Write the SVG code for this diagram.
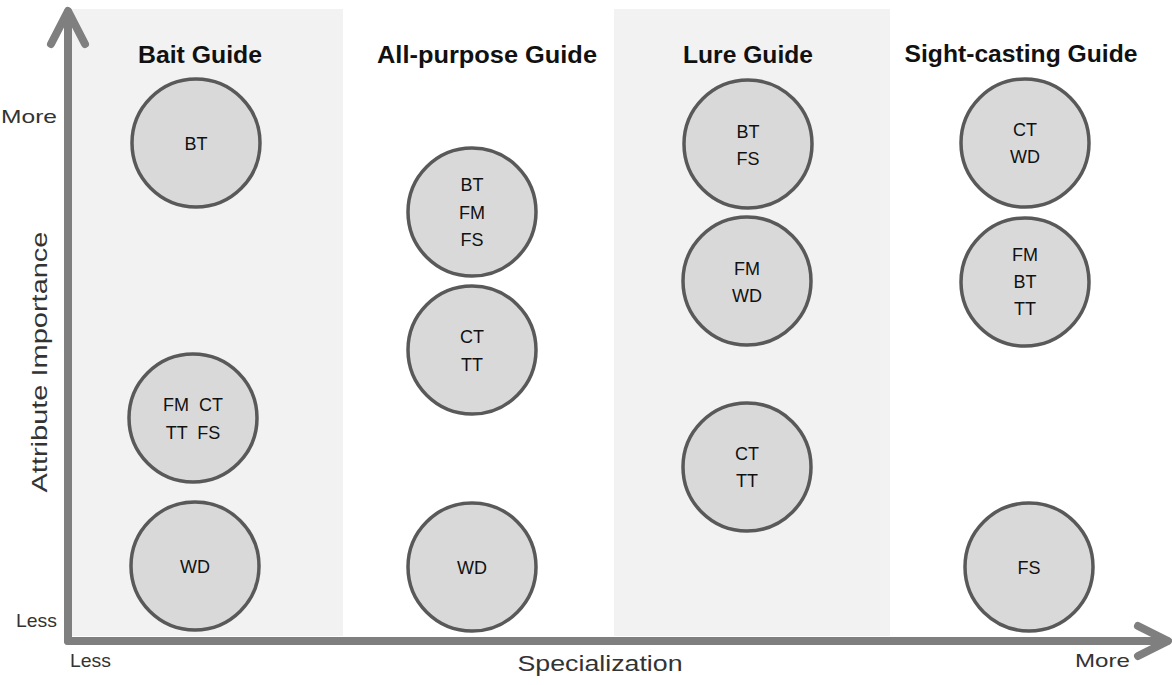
<svg xmlns="http://www.w3.org/2000/svg" width="1172" height="685" viewBox="0 0 1172 685">
<style>
.panel{fill:#f2f2f2}
.node circle{fill:#d9d9d9;stroke:#595959;stroke-width:3.5}
.node text{font-family:"Liberation Sans",Arial,sans-serif;font-size:18px;fill:#111;text-anchor:middle}
.title{font-family:"Liberation Sans",Arial,sans-serif;font-weight:bold;font-size:23px;fill:#111;text-anchor:middle}
.lbl{font-family:"Liberation Sans",Arial,sans-serif;font-size:19px;fill:#333}
.big{font-family:"Liberation Sans",Arial,sans-serif;font-size:22px;fill:#333;text-anchor:middle}
.axis{fill:none;stroke:#7f7f7f;stroke-width:8;stroke-linecap:round;stroke-linejoin:round}
</style>
<rect width="1172" height="685" fill="#ffffff"/>
<rect class="panel" x="70" y="9" width="273" height="627"/>
<rect class="panel" x="614" y="9" width="276" height="627"/>

<text class="title" x="200" y="63" textLength="124" lengthAdjust="spacingAndGlyphs">Bait Guide</text>
<text class="title" x="487" y="63" textLength="220" lengthAdjust="spacingAndGlyphs">All-purpose Guide</text>
<text class="title" x="748" y="63" textLength="130" lengthAdjust="spacingAndGlyphs">Lure Guide</text>
<text class="title" x="1021" y="62" textLength="233" lengthAdjust="spacingAndGlyphs">Sight-casting Guide</text>

<g id="connectors">
<path class="axis" d="M68,641 L68,12"/>
<path class="axis" d="M51,44 L68,11 L85,44"/>
<path class="axis" d="M68,641 L1167,641"/>
<path class="axis" d="M1138,626 L1168,641 L1138,656"/>
</g>

<text class="lbl" x="57" y="123" text-anchor="end" textLength="56" lengthAdjust="spacingAndGlyphs">More</text>
<text class="lbl" x="57" y="627" text-anchor="end" textLength="41" lengthAdjust="spacingAndGlyphs">Less</text>
<text class="lbl" x="70" y="667" textLength="41" lengthAdjust="spacingAndGlyphs">Less</text>
<text class="lbl" x="1130" y="667" text-anchor="end" textLength="55" lengthAdjust="spacingAndGlyphs">More</text>
<text class="big" x="600" y="671" textLength="165" lengthAdjust="spacingAndGlyphs">Specialization</text>
<text class="big" x="0" y="0" textLength="261" lengthAdjust="spacingAndGlyphs" transform="translate(47,362) rotate(-90)">Attribute Importance</text>

<g id="bait-bt" class="node"><circle cx="196" cy="143" r="64"/><text x="196" y="150">BT</text></g>
<g id="bait-fmct" class="node"><circle cx="193" cy="418" r="64"/><text x="193" y="411" xml:space="preserve">FM  CT</text><text x="193" y="439" xml:space="preserve">TT  FS</text></g>
<g id="bait-wd" class="node"><circle cx="195" cy="566" r="64"/><text x="195" y="573">WD</text></g>

<g id="ap-btfmfs" class="node"><circle cx="472" cy="212" r="64"/><text x="472" y="191">BT</text><text x="472" y="219">FM</text><text x="472" y="246">FS</text></g>
<g id="ap-cttt" class="node"><circle cx="472" cy="350" r="64"/><text x="472" y="343">CT</text><text x="472" y="371">TT</text></g>
<g id="ap-wd" class="node"><circle cx="472" cy="567" r="64"/><text x="472" y="574">WD</text></g>

<g id="lure-btfs" class="node"><circle cx="748" cy="144" r="64"/><text x="748" y="138">BT</text><text x="748" y="165">FS</text></g>
<g id="lure-fmwd" class="node"><circle cx="747" cy="281" r="64"/><text x="747" y="275">FM</text><text x="747" y="302">WD</text></g>
<g id="lure-cttt" class="node"><circle cx="747" cy="467" r="64"/><text x="747" y="460">CT</text><text x="747" y="487">TT</text></g>

<g id="sight-ctwd" class="node"><circle cx="1025" cy="143" r="64"/><text x="1025" y="136">CT</text><text x="1025" y="163">WD</text></g>
<g id="sight-fmbttt" class="node"><circle cx="1025" cy="282" r="64"/><text x="1025" y="261">FM</text><text x="1025" y="288">BT</text><text x="1025" y="315">TT</text></g>
<g id="sight-fs" class="node"><circle cx="1029" cy="567" r="64"/><text x="1029" y="574">FS</text></g>
</svg>
